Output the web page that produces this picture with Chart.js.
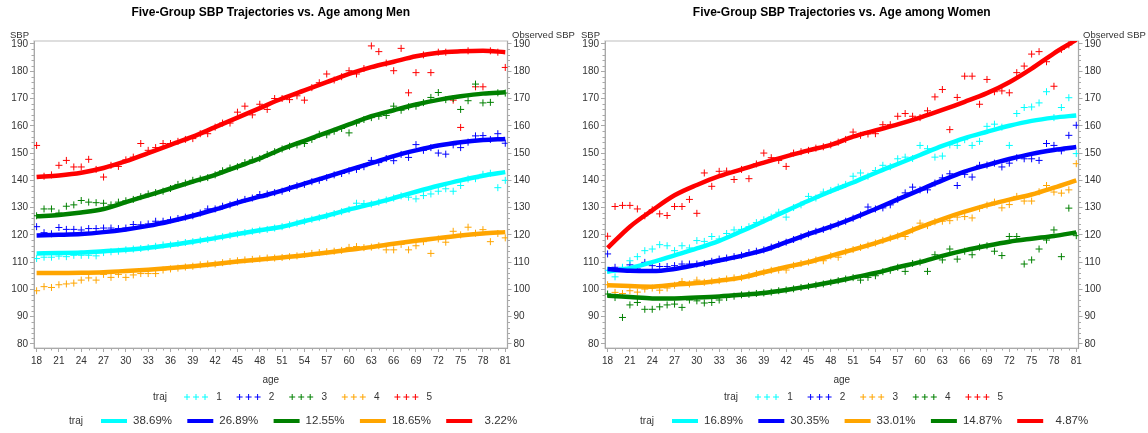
<!DOCTYPE html>
<html>
<head>
<meta charset="utf-8">
<script src="https://cdn.jsdelivr.net/npm/chart.js@4.4.1/dist/chart.umd.min.js"></script>
<style>
  html, body { margin: 0; padding: 0; background: #ffffff; }
  body { width: 1148px; height: 433px; position: relative; overflow: hidden; }
  canvas { position: absolute; top: 0; }
  #men { left: 0; }
  #women { left: 571px; }
</style>
</head>
<body>
<canvas id="men" width="590" height="433"></canvas>
<canvas id="women" width="577" height="433"></canvas>
<script>
// ---- ages and axis ticks ----
const ages = [18,19,20,21,22,23,24,25,26,27,28,29,30,31,32,33,34,35,36,37,38,39,40,41,42,43,44,45,46,47,48,49,
              50,51,52,53,54,55,56,57,58,59,60,61,62,63,64,65,66,67,68,69,70,71,72,73,74,75,76,77,78,79,80,81];
const trajAges = [18,21,24,27,30,33,36,39,42,45,48,51,54,57,60,63,66,69,72,75,78,81];
const ageTicks = [18,21,24,27,30,33,36,39,42,45,48,51,54,57,60,63,66,69,72,75,78,81];
const sbpTicks = [80,90,100,110,120,130,140,150,160,170,180,190];

// ---- men: observed mean SBP by age, per trajectory group ----
const menObs1 = [111.3,111.8,111.8,112.2,112,112.5,112.5,112.5,112.3,113.5,
                 113.8,114,114.5,114.8,115,115.3,115.8,116.3,116.3,116.8,
                 117.2,117.5,118,118.3,118.8,119.3,119.8,120.3,120.8,121.3,
                 121.7,122,122.5,123,123.7,124.3,125,125.7,126.3,127,
                 127.8,128.5,129.3,131.6,131.5,131.3,132,132.8,133.5,134.3,
                 133.8,133.2,134.4,135,136,136.9,136,138.1,140.5,140.6,
                 142.2,142.6,137.3,140];
const menObs2 = [123,120.8,120.4,122.7,122,122,121.8,122.3,122.3,122.5,
                 122.5,122.3,122.5,123.8,123.7,124,125,125,125.5,126,
                 126.5,127,128,129.5,129.5,130.5,131,132,133,133.5,
                 134.8,135,135.5,136,137,138,138.5,139.5,140,141,
                 142,142.5,143.5,144,145,147.3,146.5,148,147.2,149.5,
                 148.4,153.1,151,152,150,149.6,153,152,154,156.3,
                 156.4,155,157.1,153.6];
const menObs3 = [127,129.5,129.5,128,130.5,131,132.6,132,131.8,131.6,
                 131,132,132.5,133,134,135,135.5,136,137,138.5,
                 139,140,140.5,141,142,143.5,144.5,145,146.5,147.5,
                 148,149.5,150.5,151.5,152.5,153,153.5,155,156.9,156.7,
                 158,159,157.4,161,162.3,163,163.5,163.8,167.2,165.7,
                 167,167.2,168.5,170.4,172.2,169.6,170,166,169.2,175.3,
                 168.4,168.6,172.1,172];
const menObs4 = [99.5,101,100.7,101.7,102,102.3,103.4,104.2,103.4,105.5,
                 104.4,105.5,104.4,105.3,105.8,105.8,105.8,107.1,107.5,107.8,
                 108.2,108.5,109,109.3,109.3,109.8,110.2,110.5,110.8,111,
                 111.2,111.5,111.5,111.7,112,112.3,112.8,113.2,113.5,113.8,
                 114,114.3,115.4,115.7,115.3,115.5,116,114.5,114.5,116.5,
                 114.5,116,117.5,113.2,118.5,117.3,121.3,120,122.8,120.6,
                 121.9,117.5,120.5,118.9];
const menObs5 = [152.8,141.5,142,145.5,147.3,144.9,144.9,147.7,144,141.2,
                 145.5,145.1,147.5,148.5,153.5,151,152,153.5,153.5,154.3,
                 155,155.3,157.1,157.1,159.5,161,161,165,167.2,164,
                 167.9,166,170,170,169.6,171,169.4,174,175.8,179,
                 176.8,178,180.2,179,181,189.3,187.2,183,180.2,188.4,
                 172.1,179.5,186,179.5,187,187,169.4,159.4,187.5,174.3,
                 174.3,187.5,187,181.4];

// ---- men: fitted trajectories ----
const menTraj1 = [113.2,113.3,113.5,114,114.5,115.3,116.3,117.5,118.8,120.3,121.7,123,125,127,129.3,131.3,133.5,135.8,138,140,141.7,143];
const menTraj2 = [119.8,120,120.3,121,122,123.3,125,127,129.3,131.8,134,136.2,138.8,141.3,143.8,146.3,148.9,151,152.8,154,154.8,155.2];
const menTraj3 = [126.8,127.3,128.2,129.5,132,134.5,137,139.5,142,145,148,151.5,154.5,157.5,160.5,163.5,165.7,167.8,169.5,170.8,171.8,172.3];
const menTraj4 = [106,106,106.1,106.3,106.7,107.2,107.8,108.5,109.3,110.2,111,111.7,112.5,113.5,114.5,115.5,116.7,117.8,118.8,119.8,120.5,121];
const menTraj5 = [141.2,141.8,142.8,144.5,147,150,153,156,159.5,163,166.5,170,173,176,179,181.5,183.5,185.5,186.8,187.3,187.5,187];
const menShares = ['38.69%','26.89%','12.55%','18.65%','3.22%'];

// ---- women: observed mean SBP by age, per trajectory group ----
const womenObs1 = [107,104.6,108.1,110.5,112,114.2,114.8,116.4,116,114.2,
                   116,115.2,117.9,117.6,119.4,118.5,120.5,121.8,122,123,
                   124.5,125.5,126.5,128.3,126.5,130,131,134.1,133.5,135.7,
                   136.3,137.5,138.5,141.5,142.7,141.5,143.6,145.5,145,147.9,
                   148.5,148,152.8,151.6,148.5,148.9,153,152.8,154.9,152.8,
                   154.3,159.8,160.6,159.5,152.8,164.5,166.7,166.9,168.4,172.5,
                   163,166.7,170.3,149.8];
const womenObs2 = [113,108.1,107.8,109,107.5,109.9,108.7,108.4,108.4,108.7,
                   109.3,109.3,109.3,109.5,110.3,111.1,111.5,112,112.5,113.5,
                   114,114.5,115.5,116.5,117.3,118.3,119.3,120.3,121.3,122,
                   123,124,125,126.1,127.3,130.2,129.5,129.9,131,133,
                   135.4,137.5,136.5,136.5,139,140.9,142.4,138.1,142.2,141.2,
                   145.5,145.6,146.3,144.9,146.3,148.3,147.9,147.9,147.3,153.5,
                   152.8,150.8,156.5,160.2];
const womenObs3 = [101.7,98.9,98.5,99.5,99,100.1,100.5,99.7,100.5,101.5,
                   102.9,102,103.4,102.6,103,103.2,103.8,104.2,104.3,105,
                   105.8,106.3,107,107.1,107.1,108.8,109.5,110,110.8,110.5,
                   112.3,111.8,113.8,114.6,115.4,116.2,117,118,118.8,119.6,
                   119.4,121.8,124.3,123.4,124.8,125,125.2,126.5,126.7,126.2,
                   129.7,130.9,132,129.9,131.1,134.1,132.4,132.4,135.8,138.1,
                   135.7,135.3,136.5,146.1];
const womenObs4 = [98.3,97,89.7,94.3,95.2,92.7,92.7,93.6,94.3,94.6,
                   93.4,96.1,95.8,95,95.2,96.1,97,97.5,98,98.2,
                   98.5,98.7,99,99.5,99.8,100.2,100.7,101.1,101.6,102,
                   102.6,103.2,103.8,104.3,103.4,104.4,105,106.5,107,108.1,
                   106.6,109.5,110,106.6,112.7,110.8,114.8,111.1,114,112.7,
                   115.5,116,114,112.4,119.4,119.4,109.3,110.8,114.8,118.1,
                   121.8,112,129.8,119.7];
const womenObs5 = [119.5,130.4,130.8,130.8,129.5,127,129.2,127.7,127.1,130.4,
                   130.4,133,127.9,142.7,137.8,143.3,143.4,140.3,144,140.6,
                   146,150,148.3,147.3,145.1,150,150.5,151,151.8,152.3,
                   153,154,155,157.7,156.5,157,157.1,160.4,160.4,163.5,
                   164.5,163.5,163,165.5,170.6,173.3,158.6,170.4,178.2,178.2,
                   167.9,177,172.5,172.8,172.1,179.5,181.9,186.3,187.2,183.5,
                   174.5,188,189.7,null];

// ---- women: fitted trajectories ----
const womenTraj1 = [106.5,107.8,110,112.5,115,117.8,121.3,125,128.8,132.5,136,139.2,142.7,146,149.3,152.6,155.5,157.8,160,161.8,163,163.8];
const womenTraj2 = [107.5,106.8,106.7,107.5,109,110.6,112.3,114.4,117.3,120.3,123,126.1,129.5,133,136.5,140,143.2,145.6,147.8,149.7,151.1,152.2];
const womenTraj3 = [101.5,101.2,101,101.7,102.3,103.2,104.3,106.3,108.2,110,112.3,114.6,117,119.6,122.8,125.8,128.5,130.9,132.9,134.8,137.3,140];
const womenTraj4 = [97.7,97.2,96.7,96.7,97,97.4,98,98.7,99.8,101.1,102.6,104.3,106,108.1,110,112.3,114.3,116,117.5,118.6,119.6,120.9];
const womenTraj5 = [115.2,123,129,134.5,138.3,141.5,144,146.5,148.8,151,153,156,158.3,160.5,163,165.8,168.8,172,176,181,186.6,191.5];
const womenShares = ['16.89%','30.35%','33.01%','14.87%','4.87%'];

// ---- styling ----
const FONT = '"Liberation Sans", Arial, Helvetica, sans-serif';
const AXIS = '#a9a9a9';
const FRAME = '#d4d4d4';
const TEXT = '#333333';
const CYAN = '#00ffff', BLUE = '#0000ff', GREEN = '#008000', ORANGE = '#ffa500', RED = '#ff0000';

function xy(xs, ys) {
  return xs.map((a, i) => ({ x: a, y: ys[i] }));
}

function drawCross(ctx, x, y, r, color) {
  ctx.strokeStyle = color;
  ctx.lineWidth = 1;
  ctx.beginPath();
  ctx.moveTo(x - r, y); ctx.lineTo(x + r, y);
  ctx.moveTo(x, y - r); ctx.lineTo(x, y + r);
  ctx.stroke();
}

function makeChart(canvasId, title, groups, lineDrawOrder) {
  const canvas = document.getElementById(canvasId);
  const W = canvas.width;
  const plotRight = 507.5;

  // fitted curves are listed first so they are painted over the observed crosses
  const lineSets = lineDrawOrder.map(k => {
    const g = groups[k];
    return {
      label: 'traj ' + g.n + ' fit',
      data: xy(trajAges, g.traj),
      borderColor: g.color,
      backgroundColor: g.color,
      borderWidth: 4.5,
      pointRadius: 0,
      cubicInterpolationMode: 'monotone',
      fill: false,
      order: 0
    };
  });
  const obsSets = groups.map(g => ({
    label: 'traj ' + g.n,
    data: xy(ages, g.obs),
    showLine: false,
    pointStyle: 'cross',
    pointRadius: 3.5,
    pointBorderWidth: 1,
    borderColor: g.color,
    backgroundColor: g.color,
    order: 1
  }));

  const yAxis = (position, width) => ({
    type: 'linear',
    position: position,
    min: 78.5,
    max: 191.1,
    afterBuildTicks: s => { s.ticks = sbpTicks.map(v => ({ value: v })); },
    afterFit: s => { s.width = width; },
    grid: { drawOnChartArea: false, drawTicks: true, tickLength: 4, tickColor: AXIS },
    border: { color: AXIS, width: 1 },
    ticks: { color: TEXT, font: { family: FONT, size: 10 }, padding: 2 }
  });

  const decor = {
    id: 'decor',
    beforeDraw(chart) {
      const { ctx, chartArea: a } = chart;
      ctx.save();
      ctx.strokeStyle = FRAME;
      ctx.lineWidth = 1.5;
      ctx.strokeRect(a.left, a.top, a.right - a.left, a.bottom - a.top);
      ctx.restore();
    },
    afterDraw(chart) {
      const { ctx, chartArea: a, scales } = chart;
      ctx.save();
      // minor ticks
      ctx.strokeStyle = AXIS;
      ctx.lineWidth = 1;
      ctx.beginPath();
      ages.forEach(v => {
        if (ageTicks.includes(v)) return;
        const px = Math.round(scales.x.getPixelForValue(v)) + 0.5;
        ctx.moveTo(px, a.bottom); ctx.lineTo(px, a.bottom + 2.5);
      });
      for (let v = 82; v < 190; v += 2) {
        if (v % 10 === 0) continue;
        const py = Math.round(scales.y.getPixelForValue(v)) + 0.5;
        ctx.moveTo(a.left - 2.5, py); ctx.lineTo(a.left, py);
        ctx.moveTo(a.right, py); ctx.lineTo(a.right + 2.5, py);
      }
      ctx.stroke();

      const cx = (a.left + a.right) / 2;
      // title
      ctx.fillStyle = '#000000';
      ctx.font = 'bold 12px ' + FONT;
      ctx.textAlign = 'center';
      ctx.textBaseline = 'middle';
      ctx.fillText(title, cx, 13);

      // axis names
      ctx.fillStyle = TEXT;
      ctx.font = '9.5px ' + FONT;
      ctx.textAlign = 'left';
      ctx.fillText('SBP', 10, 35);
      ctx.fillText('Observed SBP', a.right + 4.5, 35);
      ctx.font = '10px ' + FONT;
      ctx.textAlign = 'center';
      ctx.fillText('age', cx, 380);

      // legend row 1: observed groups
      const r1 = 397;
      ctx.fillText('traj', 160, r1);
      groups.forEach((g, i) => {
        const x0 = 187 + i * 52.6;
        [0, 9, 18].forEach(dx => drawCross(ctx, x0 + dx, r1, 3, g.color));
        ctx.fillStyle = TEXT;
        ctx.font = '10px ' + FONT;
        ctx.textAlign = 'center';
        ctx.fillText(String(g.n), 219 + i * 52.6, r1);
      });

      // legend row 2: fitted groups with shares
      const r2 = 421;
      ctx.fillStyle = TEXT;
      ctx.font = '10px ' + FONT;
      ctx.textAlign = 'center';
      ctx.fillText('traj', 76, r2);
      groups.forEach((g, i) => {
        const x0 = 101 + i * 86.3;
        ctx.strokeStyle = g.color;
        ctx.lineWidth = 4;
        ctx.beginPath();
        ctx.moveTo(x0, r2); ctx.lineTo(x0 + 26, r2);
        ctx.stroke();
        ctx.fillStyle = TEXT;
        ctx.font = '11.5px ' + FONT;
        ctx.textAlign = 'right';
        ctx.fillText(g.share, 172 + i * 86.3, r2);
      });
      ctx.restore();
    }
  };

  return new Chart(canvas, {
    type: 'line',
    data: { datasets: lineSets.concat(obsSets) },
    options: {
      responsive: false,
      animation: false,
      layout: { padding: { top: 41, left: 0, right: 0, bottom: 0 } },
      plugins: { legend: { display: false }, title: { display: false }, tooltip: { enabled: false } },
      scales: {
        x: {
          type: 'linear',
          min: 17.65,
          max: 81.3,
          afterBuildTicks: s => { s.ticks = ageTicks.map(v => ({ value: v })); },
          afterFit: s => { s.height = 433 - 348; },
          grid: { drawOnChartArea: false, drawTicks: true, tickLength: 4, tickColor: AXIS },
          border: { color: AXIS, width: 1 },
          ticks: { color: TEXT, font: { family: FONT, size: 10 }, padding: 3, maxRotation: 0, autoSkip: false }
        },
        y: yAxis('left', 34),
        y2: yAxis('right', W - plotRight)
      }
    },
    plugins: [decor]
  });
}

makeChart('men', 'Five-Group SBP Trajectories vs. Age among Men', [
  { n: 1, color: CYAN,   obs: menObs1, traj: menTraj1, share: menShares[0] },
  { n: 2, color: BLUE,   obs: menObs2, traj: menTraj2, share: menShares[1] },
  { n: 3, color: GREEN,  obs: menObs3, traj: menTraj3, share: menShares[2] },
  { n: 4, color: ORANGE, obs: menObs4, traj: menTraj4, share: menShares[3] },
  { n: 5, color: RED,    obs: menObs5, traj: menTraj5, share: menShares[4] }
], [4, 2, 1, 0, 3]);

makeChart('women', 'Five-Group SBP Trajectories vs. Age among Women', [
  { n: 1, color: CYAN,   obs: womenObs1, traj: womenTraj1, share: womenShares[0] },
  { n: 2, color: BLUE,   obs: womenObs2, traj: womenTraj2, share: womenShares[1] },
  { n: 3, color: ORANGE, obs: womenObs3, traj: womenTraj3, share: womenShares[2] },
  { n: 4, color: GREEN,  obs: womenObs4, traj: womenTraj4, share: womenShares[3] },
  { n: 5, color: RED,    obs: womenObs5, traj: womenTraj5, share: womenShares[4] }
], [4, 1, 0, 2, 3]);
</script>
</body>
</html>
